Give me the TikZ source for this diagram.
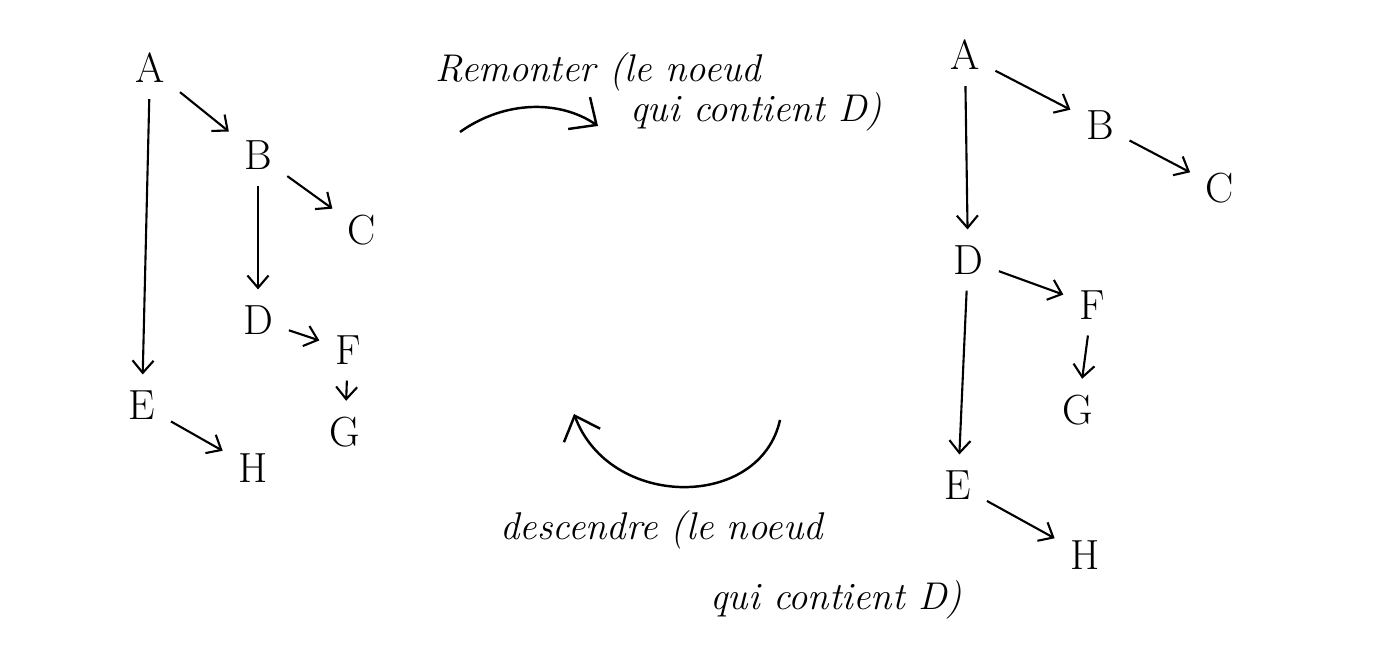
\documentclass[tikz,border=0pt]{standalone}
\usepackage{tikz}
\usetikzlibrary{arrows.meta}
\tikzset{
    letter/.style={font=\fontsize{24}{28}\selectfont, inner sep=7pt},
    note/.style={font=\fontsize{22}{26}\selectfont\itshape, inner sep=0pt, anchor=west},
    line/.style={draw=black, line width=1.2pt, -{Straight Barb[length=7pt, width=12pt]}, shorten >=2pt, shorten <=2pt},
    bigline/.style={draw=black, line width=1.4pt, -{Straight Barb[length=12pt, width=22pt]}}
}

\begin{document}
\begin{tikzpicture}[x=0.02cm, y=-0.02cm]
    \useasboundingbox (0,0) rectangle (1394,648);

    % left tree
    \node [letter] (lA) at (150,68) {A};
    \node [letter] (lB) at (258,155) {B};
    \node [letter] (lC) at (362,230) {C};
    \node [letter] (lD) at (258,320) {D};
    \node [letter] (lF) at (348,350) {F};
    \node [letter] (lG) at (345,432) {G};
    \node [letter] (lE) at (142,405) {E};
    \node [letter] (lH) at (253,468) {H};

    \draw [line] (lA) -- (lB); \draw [line] (lA) -- (lE);
    \draw [line] (lB) -- (lC); \draw [line] (lB) -- (lD);
    \draw [line] (lD) -- (lF); \draw [line] (lF) -- (lG);
    \draw [line] (lE) -- (lH);

    % right tree
    \node [letter] (rA) at (965,55) {A};
    \node [letter] (rB) at (1100,125) {B};
    \node [letter] (rC) at (1220,188) {C};
    \node [letter] (rD) at (968,260) {D};
    \node [letter] (rF) at (1092,305) {F};
    \node [letter] (rG) at (1078,410) {G};
    \node [letter] (rE) at (958,485) {E};
    \node [letter] (rH) at (1085,555) {H};

    \draw [line] (rA) -- (rB); \draw [line] (rB) -- (rC);
    \draw [line] (rA) -- (rD); \draw [line] (rD) -- (rF);
    \draw [line] (rF) -- (rG); \draw [line] (rD) -- (rE);
    \draw [line] (rE) -- (rH);

    % operations
    \node [note] (up1) at (435,72) {Remonter (le noeud};
    \node [note] (up2) at (630,112) {qui contient D)};
    \node [note] (down1) at (500,530) {descendre (le noeud};
    \node [note] (down2) at (710,600) {qui contient D)};

    \coordinate (upS) at (460,132);
    \coordinate (upE) at (598,126);
    \coordinate (downS) at (780,420);
    \coordinate (downE) at (574,414);
    \draw [bigline] (upS) .. controls (505,100) and (560,100) .. (upE);
    \draw [bigline] (downS) .. controls (760,510) and (610,510) .. (downE);
\end{tikzpicture}
\end{document}
